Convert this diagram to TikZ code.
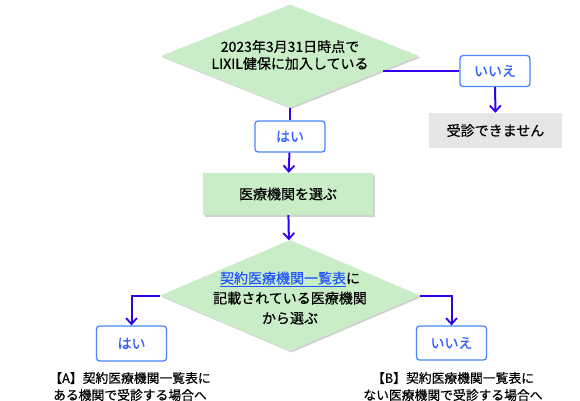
\documentclass[tikz,border=0pt]{standalone}
\usepackage{fontspec}
\setmainfont{Noto Sans CJK JP}[FakeBold=0.5]
\usetikzlibrary{arrows.meta, positioning, shapes.geometric, shadows}

\definecolor{flowgreen}{HTML}{C9EDC6}
\definecolor{flowgray}{HTML}{E6E6E6}
\definecolor{flowline}{HTML}{3300EE}
\definecolor{answerblue}{HTML}{4A86FF}
\definecolor{answertext}{HTML}{2F5FFF}
\definecolor{linkblue}{HTML}{2255FF}

\begin{document}
\begin{tikzpicture}[
    x=1pt, y=-1pt,
    font=\fontsize{14}{17}\selectfont,
    softShadow/.style={drop shadow={shadow xshift=1.5pt, shadow yshift=-1.5pt, fill=black!30, opacity=0.6}},
    decision/.style={diamond, fill=flowgreen, inner sep=0pt, softShadow},
    process/.style={rectangle, fill=flowgreen, inner sep=0pt, minimum width=170pt, minimum height=42pt, softShadow},
    stopbox/.style={rectangle, fill=flowgray, inner sep=0pt, minimum width=133pt, minimum height=35pt},
    answer/.style={draw=answerblue, line width=1.3pt, fill=white, rectangle, rounded corners=3pt, minimum width=70pt, minimum height=31pt, inner sep=0pt, text=answertext},
    note/.style={align=center, font=\fontsize{12.8}{17}\selectfont},
    line/.style={draw=flowline, line width=2pt},
    arrowLine/.style={line, -{Straight Barb[length=6pt, width=11pt, line width=1.8pt]}}
]
    \useasboundingbox (0,0) rectangle (580,400);

    % Nodes
    \node[decision, minimum width=258pt, minimum height=103pt] (enrolled) at (290,56) {};
    \node[align=center] (enrolledText) at (290,55) {2023年3月31日時点で\\LIXIL健保に加入している};
    \node[answer] (enrolledNo) at (495,71) {いいえ};
    \node[stopbox] (refused) at (495.5,130.5) {受診できません};
    \node[answer] (enrolledYes) at (290,136.5) {はい};
    \node[process] (choose) at (288,194) {医療機関を選ぶ};
    \node[decision, minimum width=260pt, minimum height=111pt] (listed) at (290,295.5) {};
    \node[align=center, font=\fontsize{14}{20}\selectfont] (listedText) at (290,298)
        {\textcolor{linkblue}{\underline{契約医療機関一覧表}}に\\記載されている医療機関\\から選ぶ};
    \node[answer, minimum height=35pt] (listedYes) at (131.5,343.5) {はい};
    \node[answer, minimum height=34pt] (listedNo) at (451.5,343) {いいえ};
    \node[note] (caseA) at (130,386.5) {【A】契約医療機関一覧表に\\ある機関で受診する場合へ};
    \node[note] (caseB) at (453,386.5) {【B】契約医療機関一覧表に\\ない医療機関で受診する場合へ};

    % Connections
    \draw[line] (enrolled.-9.3) -- (enrolled.-9.3 -| enrolledNo.west);
    \draw[arrowLine] (enrolledNo) -- (refused);
    \draw[line] (enrolled) -- (enrolledYes);
    \draw[arrowLine] (enrolledYes) -- (choose);
    \draw[arrowLine] (choose) -- (listed);
    \draw[arrowLine] (listed.west) -| (listedYes.north);
    \draw[arrowLine] (listed.east) -| (listedNo.north);

\end{tikzpicture}
\end{document}
